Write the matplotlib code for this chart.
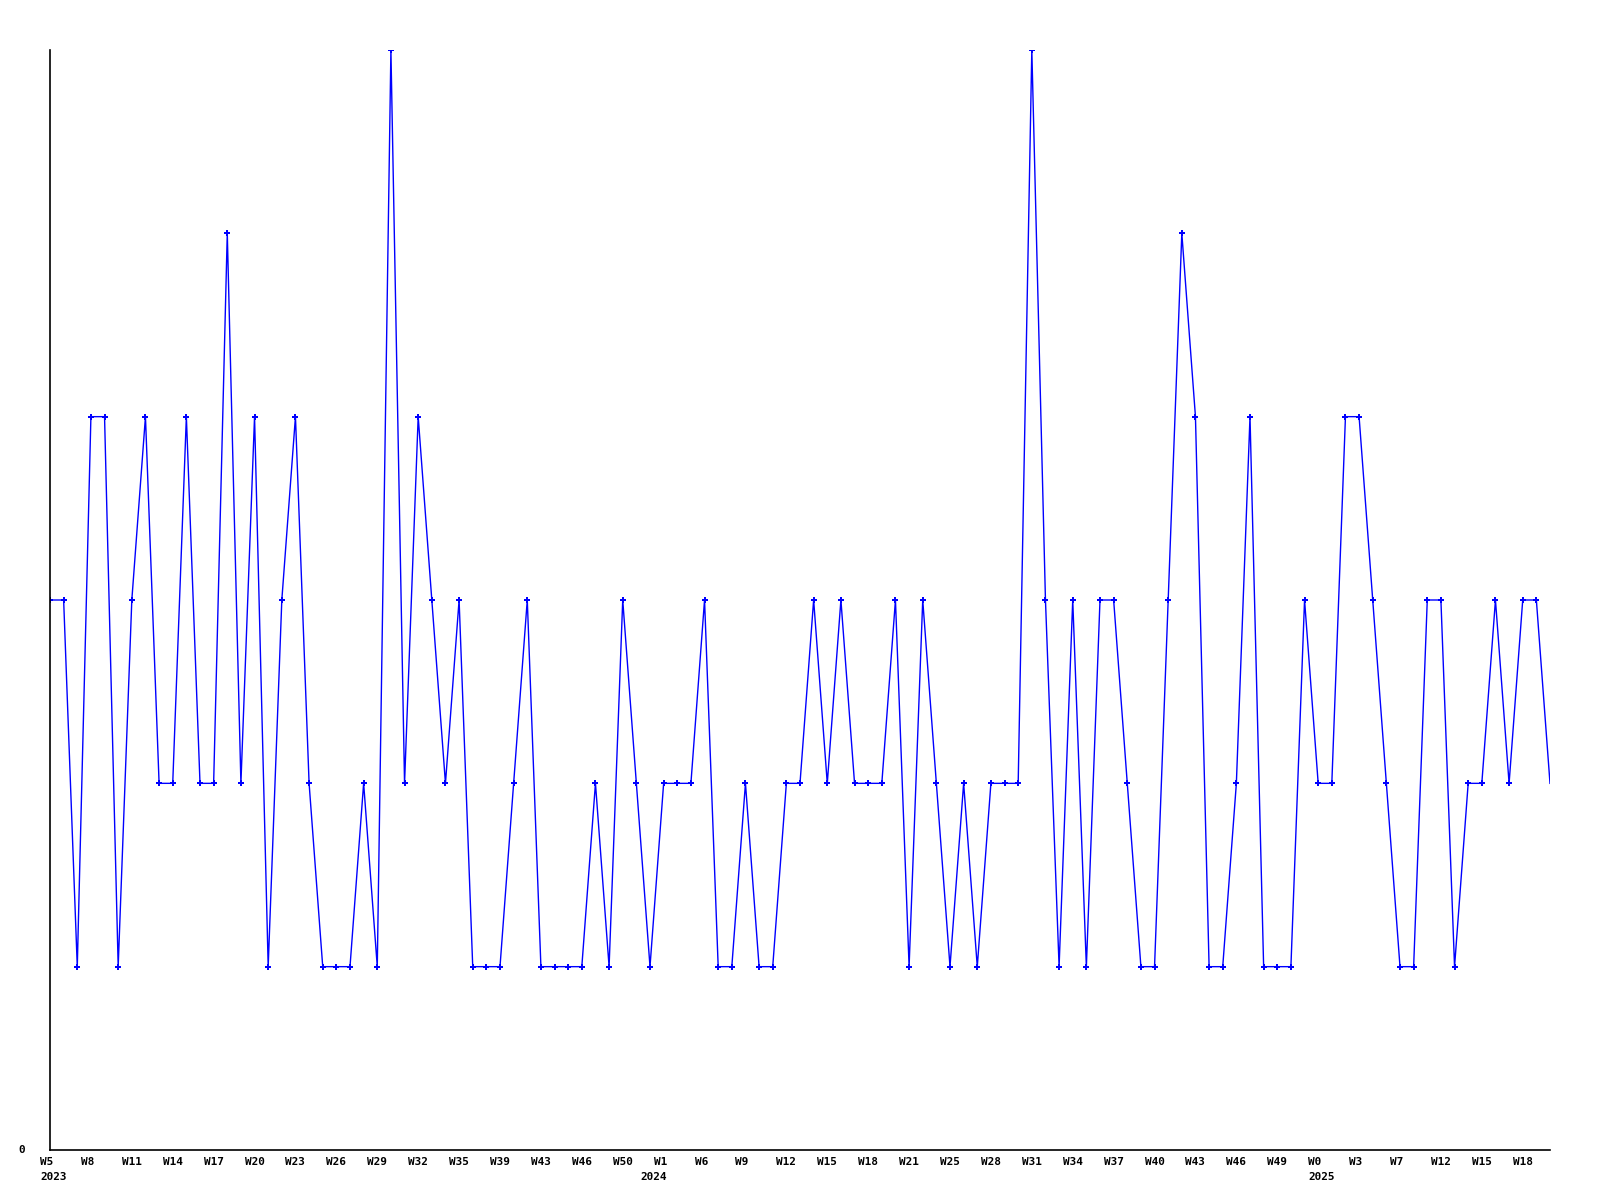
import matplotlib
matplotlib.use("Agg")
import matplotlib.pyplot as plt
from matplotlib.transforms import ScaledTranslation

values = [3, 3, 1, 4, 4, 1, 3, 4, 2, 2,
          4, 2, 2, 5, 2, 4, 1, 3, 4, 2,
          1, 1, 1, 2, 1, 6, 2, 4, 3, 2,
          3, 1, 1, 1, 2, 3, 1, 1, 1, 1,
          2, 1, 3, 2, 1, 2, 2, 2, 3, 1,
          1, 2, 1, 1, 2, 2, 3, 2, 3, 2,
          2, 2, 3, 1, 3, 2, 1, 2, 1, 2,
          2, 2, 6, 3, 1, 3, 1, 3, 3, 2,
          1, 1, 3, 5, 4, 1, 1, 2, 4, 1,
          1, 1, 3, 2, 2, 4, 4, 3, 2, 1,
          1, 3, 3, 1, 2, 2, 3, 2, 3, 3,
          2]

week_labels = ["W5", "W8", "W11", "W14", "W17", "W20", "W23", "W26", "W29",
               "W32", "W35", "W39", "W43", "W46", "W50", "W1", "W6", "W9",
               "W12", "W15", "W18", "W21", "W25", "W28", "W31", "W34", "W37",
               "W40", "W43", "W46", "W49", "W0", "W3", "W7", "W12", "W15", "W18"]
year_labels = {0: "2023", 15: "2024", 31: "2025"}
label_step = 3

fig = plt.figure(figsize=(16, 12), dpi=100)
ax = fig.add_axes([50 / 1600, 50 / 1200, 1500 / 1600, 1100 / 1200])

x = list(range(len(values)))
ax.plot(x, values, color="#0000ff", linewidth=1.0, marker="P", markersize=4.5,
        markeredgewidth=0, markevery=list(range(len(values) - 1)),
        solid_joinstyle="miter")

ax.set_xlim(0, len(values) - 1)
ax.set_ylim(0, 6)
for s in ["top", "right"]:
    ax.spines[s].set_visible(False)
for s in ["left", "bottom"]:
    ax.spines[s].set_color("black")
    ax.spines[s].set_linewidth(1.2)
ax.set_xticks([])
ax.set_yticks([])

font = dict(family="DejaVu Sans Mono", fontweight="bold", fontsize=7.9, color="black")
off_left = ScaledTranslation(-10 / 100, 0, fig.dpi_scale_trans)
off_right = ScaledTranslation(3 / 100, 0, fig.dpi_scale_trans)
trans_l = ax.get_xaxis_transform() + off_left
trans_r = ax.get_xaxis_transform() + off_right
for k, lab in enumerate(week_labels):
    xi = k * label_step
    ax.text(xi, -0.0110, lab, transform=trans_l, ha="left", va="center", **font)
    if k in year_labels:
        if k == 15:
            ax.text(xi, -0.0245, year_labels[k], transform=trans_r, ha="right",
                    va="center", **font)
        else:
            ax.text(xi, -0.0245, year_labels[k], transform=trans_l, ha="left",
                    va="center", **font)

ax.text(-0.0165, 0, "0", transform=ax.get_yaxis_transform(), ha="right", va="center", **font)

fig.savefig("out.png", dpi=100)
